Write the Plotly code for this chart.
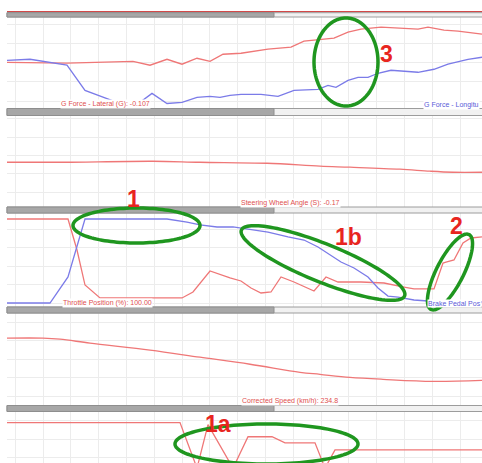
import math
import plotly.graph_objects as go

W, H = 482, 463

# ---- channel data (distance in m, values in % of each channel's scale) ----
g_lat_x = [0, 60, 126, 143, 160, 175, 190, 203, 216, 234, 261, 284, 297, 314, 327,
           341, 354, 374, 394, 411, 421, 437, 451, 467, 475]
g_lat = [50.5, 49.5, 51.6, 47.3, 53.8, 48.4, 54.9, 51.6, 59.3, 60.4, 64.8, 67.0, 73.6,
         75.8, 76.9, 83.5, 86.8, 89.0, 87.9, 86.8, 89.0, 85.7, 84.6, 82.4, 81.3]

g_long_x = [0, 23, 60, 78, 110, 130, 145, 160, 175, 190, 203, 213, 223, 234, 254, 271,
            287, 311, 321, 329, 341, 351, 361, 371, 384, 394, 411, 427, 441, 461, 475]
g_long = [52.7, 53.8, 47.3, 19.8, 6.6, 4.4, 16.5, 5.5, 6.6, 12.1, 13.2, 12.1, 14.3, 15.4,
          15.4, 13.2, 19.8, 20.9, 25.3, 23.1, 30.8, 34.1, 34.1, 38.5, 41.8, 40.7, 39.6,
          42.9, 48.4, 53.8, 56.0]

steer_x = [0, 53, 146, 193, 260, 313, 343, 393, 423, 446, 475]
steer = [48.9, 48.9, 50.0, 48.9, 47.8, 44.6, 43.5, 41.3, 39.1, 38.0, 38.0]

throttle_x = [0, 61, 70, 78, 93, 175, 186, 203, 223, 234, 244, 254, 264, 274, 287, 307,
              319, 331, 354, 377, 397, 407, 427, 436, 439, 447, 456, 464, 475]
throttle = [100, 100, 63.1, 21.4, 6.0, 6.0, 13.1, 38.1, 29.8, 26.2, 17.9, 11.9, 13.1,
            31.0, 25.0, 14.3, 31.0, 25.0, 25.0, 23.8, 19.0, 16.7, 16.7, 47.6, 48.8, 51.2,
            71.4, 77.4, 78.6]

brake_x = [0, 43, 61, 78, 160, 180, 193, 210, 226, 234, 261, 281, 297, 311, 324, 334,
           347, 361, 371, 381, 391, 407, 421, 475]
brake = [0, 0, 31.0, 100, 100, 96.4, 92.9, 90.5, 90.5, 89.3, 84.5, 78.6, 75.0, 66.7,
         57.1, 48.8, 41.7, 31.0, 17.9, 8.3, 7.1, 3.6, 2.4, 1.2]

speed_x = [0, 36, 53, 83, 143, 193, 243, 293, 313, 343, 376, 426, 475]
speed = [72.8, 72.8, 71.7, 67.4, 59.8, 52.2, 44.6, 35.9, 33.7, 30.4, 28.3, 26.1, 27.2]

gear_x = [0, 173, 190, 201, 226, 241, 265, 278, 308, 318, 328, 475]
gear = [78.4, 78.4, -10, 74.5, -10, 51.0, 51.0, 39.2, 39.2, -10, 25.5, 25.5]

# ---- page geometry (pixels from top) ----
LEFT = 7
panels = [  # (top, bottom, y-range, grid tick0, grid dtick)
    (17, 108.5, [0, 100], 8, 21),
    (115.5, 207, [0, 100], 16.3, 20),
    (213, 307, [-4.76, 107.14], 0, 22),
    (313, 405.5, [0, 100], 10, 20),
    (411.5, 463, [0, 100], 10, 36),
]
bars = [(12.7, 17), (108.5, 115.5), (207, 213), (307, 313), (405.5, 411.5)]

RED = "#ef7777"
BLUE = "#7b7be8"
RED_TXT = "#e04f4f"
BLUE_TXT = "#5a5ad8"
GREEN = "#1f961f"
MARK = "#e8251f"
FONT = "Liberation Sans"


def px_x(x):
    return x / W


def px_y(y):
    return 1 - y / H


fig = go.Figure()

series = [
    (1, g_lat_x, g_lat, RED, "linear"),
    (1, g_long_x, g_long, BLUE, "linear"),
    (2, steer_x, steer, RED, "spline"),
    (3, throttle_x, throttle, RED, "linear"),
    (3, brake_x, brake, BLUE, "linear"),
    (4, speed_x, speed, RED, "spline"),
    (5, gear_x, gear, RED, "linear"),
]
for idx, xs, ys, col, shape in series:
    sfx = "" if idx == 1 else str(idx)
    fig.add_trace(go.Scatter(
        x=xs, y=ys, mode="lines", xaxis="x" + sfx, yaxis="y" + sfx,
        line=dict(color=col, width=1.3, shape=shape), showlegend=False,
        hoverinfo="skip"))

layout = dict(
    width=W, height=H, margin=dict(l=0, r=0, t=0, b=0),
    paper_bgcolor="white", plot_bgcolor="white", showlegend=False,
)
for i, (top, bot, yr, t0, dt) in enumerate(panels, start=1):
    sfx = "" if i == 1 else str(i)
    layout["xaxis" + sfx] = dict(
        domain=[px_x(LEFT), 1], range=[0, 475], anchor="y" + sfx,
        showgrid=True, gridcolor="#ececec", gridwidth=1, tick0=8.2, dtick=27.8,
        zeroline=False, showticklabels=False, ticks="", showline=False, fixedrange=True)
    layout["yaxis" + sfx] = dict(
        domain=[px_y(bot), px_y(top)], range=yr, anchor="x" + sfx,
        showgrid=True, gridcolor="#ececec", gridwidth=1, tick0=t0, dtick=dt,
        zeroline=False, showticklabels=False, ticks="", showline=False, fixedrange=True)
fig.update_layout(**layout)

shapes = []
# channel line from the panel above, cut at the page top
shapes.append(dict(type="line", xref="paper", yref="paper", x0=px_x(LEFT), x1=1,
                   y0=px_y(11.6), y1=px_y(11.6), line=dict(color="#d24848", width=1.2)))
# scrollbar-style separators between panels
for top, bot in bars:
    shapes.append(dict(type="rect", xref="paper", yref="paper",
                       x0=px_x(LEFT), x1=1.01, y0=px_y(bot), y1=px_y(top),
                       fillcolor="#f1f1f1", line=dict(color="#9c9c9c", width=1)))
    shapes.append(dict(type="rect", xref="paper", yref="paper",
                       x0=px_x(LEFT), x1=px_x(274), y0=px_y(bot), y1=px_y(top),
                       fillcolor="#a7a7a7", line=dict(color="#8e8e8e", width=1)))


def ellipse_path(cx, cy, a, b, deg, n=120):
    t = math.radians(deg)
    pts = []
    for i in range(n):
        th = 2 * math.pi * i / n
        x = cx + a * math.cos(th) * math.cos(t) - b * math.sin(th) * math.sin(t)
        y = cy + a * math.cos(th) * math.sin(t) + b * math.sin(th) * math.cos(t)
        pts.append(f"{px_x(x):.5f},{px_y(y):.5f}")
    return "M " + " L ".join(pts) + " Z"


# highlight rings
rings = [
    (346, 62, 32, 44, 0),      # 3
    (136.5, 225.5, 63.5, 17.5, 0),  # 1
    (323, 263, 88, 19, 22),    # 1b
    (450, 272, 42, 13.5, -63),  # 2
    (266.5, 444, 91.5, 20, 0),  # 1a
]
for cx, cy, a, b, deg in rings:
    shapes.append(dict(type="path", xref="paper", yref="paper",
                       path=ellipse_path(cx, cy, a, b, deg),
                       line=dict(color=GREEN, width=3.5)))
fig.update_layout(shapes=shapes)

ann = []
# channel readouts (the right-hand ones run off the panel edge)
readouts = [
    ("G Force - Lateral (G): -0.107", 105, 104, "center", RED_TXT),
    ("G Force - Longitu", 423, 104.5, "left", BLUE_TXT),
    ("Steering Wheel Angle (S): -0.17", 290, 203, "center", RED_TXT),
    ("Throttle Position (%): 100.00", 107, 303, "center", RED_TXT),
    ("Brake Pedal Pos", 427, 303, "left", BLUE_TXT),
    ("Corrected Speed (km/h): 234.8", 290, 401, "center", RED_TXT),
]
for txt, x, y, anc, col in readouts:
    ann.append(dict(text=txt, xref="paper", yref="paper", x=px_x(x), y=px_y(y),
                    xanchor=anc, yanchor="middle", showarrow=False,
                    font=dict(family=FONT, size=7, color=col),
                    bgcolor="white", borderpad=0))
# ring numbers
marks = [("3", 386, 54), ("1", 133, 199), ("1b", 348, 237), ("2", 456, 226), ("1a", 218, 424)]
for txt, x, y in marks:
    ann.append(dict(text=f"<b>{txt}</b>", xref="paper", yref="paper", x=px_x(x), y=px_y(y),
                    xanchor="center", yanchor="middle", showarrow=False,
                    font=dict(family=FONT, size=23, color=MARK)))
fig.update_layout(annotations=ann)

fig.write_html("out.html", config={"displayModeBar": False})
